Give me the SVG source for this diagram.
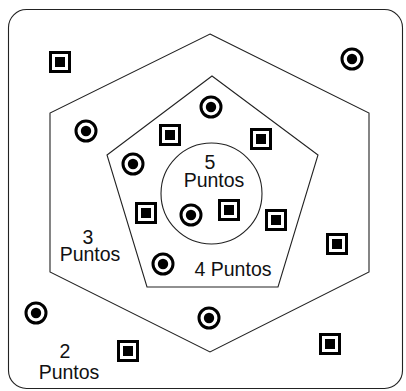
<svg xmlns="http://www.w3.org/2000/svg" width="406" height="391" viewBox="0 0 406 391">
<defs>
<style>
.ln{fill:none;stroke:#222;stroke-width:1.1}
.t{font-family:"Liberation Sans",Arial,sans-serif;font-size:19.5px;fill:#111;text-anchor:middle}
.sq{fill:#fff;stroke:#000;stroke-width:3}
.ring{fill:#fff;stroke:#000;stroke-width:3}
.dot{fill:#000}
</style>
<g id="sqm"><rect class="sq" x="-9.5" y="-9.5" width="19" height="19"/><rect class="dot" x="-5" y="-5" width="10" height="10"/></g>
<g id="cim"><circle class="ring" r="10"/><circle class="dot" r="5.2"/></g>
</defs>
<rect width="406" height="391" fill="#fff"/>
<g id="frame"><rect class="ln" x="8.5" y="9.5" width="394" height="379" rx="18" ry="18" stroke-width="1.3"/></g>
<g id="zone2"><polygon class="ln" points="210,34 369,113 369,272 210,352 50,272 50,113"/></g>
<g id="zone3"><polygon class="ln" points="212,76 318,155 278,287 147,287 107,155"/></g>
<g id="zone4"><circle class="ln" cx="211.5" cy="193.5" r="50.5"/></g>
<g id="labels">
<text class="t"><tspan x="210" y="169">5</tspan><tspan x="214" y="187">Puntos</tspan></text>
<text class="t"><tspan x="88" y="244">3</tspan><tspan x="90" y="261">Puntos</tspan></text>
<text class="t" x="233" y="276">4 Puntos</text>
<text class="t"><tspan x="65" y="358">2</tspan><tspan x="69" y="379">Puntos</tspan></text>
</g>
<g id="circles">
<use href="#cim" x="352" y="59"/>
<use href="#cim" x="86" y="131"/>
<use href="#cim" x="211" y="107"/>
<use href="#cim" x="133" y="164"/>
<use href="#cim" x="191" y="215"/>
<use href="#cim" x="163" y="264"/>
<use href="#cim" x="36" y="313"/>
<use href="#cim" x="209" y="318"/>
</g>
<g id="squares">
<use href="#sqm" x="60" y="62"/>
<use href="#sqm" x="170" y="135"/>
<use href="#sqm" x="261" y="139"/>
<use href="#sqm" x="146" y="213"/>
<use href="#sqm" x="229" y="210"/>
<use href="#sqm" x="276" y="220"/>
<use href="#sqm" x="337" y="244"/>
<use href="#sqm" x="128" y="351"/>
<use href="#sqm" x="330" y="344"/>
</g>
</svg>
